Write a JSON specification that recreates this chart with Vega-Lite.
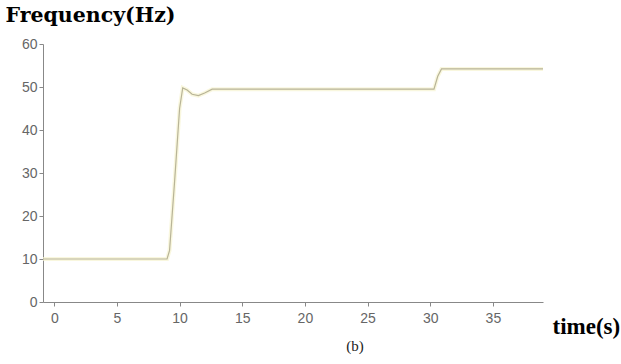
{
  "$schema": "https://vega.github.io/schema/vega-lite/v6.json",
  "width": 500,
  "height": 258,
  "autosize": "none",
  "padding": {"left": 43, "top": 44, "right": 78, "bottom": 62},
  "background": "white",
  "config": {"view": {"stroke": null}},
  "title": {
    "text": "(b)",
    "orient": "bottom",
    "anchor": "middle",
    "dx": 62,
    "offset": 1,
    "font": "Liberation Serif",
    "fontSize": 15,
    "fontWeight": "normal",
    "color": "#222"
  },
  "data": {
    "values": [
      {"t": -0.9, "f": 10},
      {"t": 9.0, "f": 10},
      {"t": 9.2, "f": 12},
      {"t": 9.6, "f": 28},
      {"t": 10.0, "f": 45},
      {"t": 10.25, "f": 49.8},
      {"t": 10.6, "f": 49.3},
      {"t": 11.0, "f": 48.3},
      {"t": 11.5, "f": 48.0},
      {"t": 12.0, "f": 48.6},
      {"t": 12.6, "f": 49.5},
      {"t": 20, "f": 49.5},
      {"t": 30.3, "f": 49.5},
      {"t": 30.6, "f": 52.5},
      {"t": 30.9, "f": 54.2},
      {"t": 39, "f": 54.2}
    ]
  },
  "encoding": {
    "x": {
      "field": "t",
      "type": "quantitative",
      "scale": {"domain": [-0.9, 39], "nice": false, "zero": false},
      "axis": {
        "values": [0, 5, 10, 15, 20, 25, 30, 35],
        "grid": false,
        "domainColor": "#888",
        "tickColor": "#888",
        "tickSize": 4,
        "labelPadding": 5,
        "labelFont": "Liberation Sans",
        "labelFontSize": 14,
        "labelColor": "#666",
        "title": "time(s)",
        "titleFont": "Liberation Serif",
        "titleFontSize": 23,
        "titleFontWeight": "bold",
        "titleColor": "#000",
        "titleAlign": "left",
        "titleBaseline": "alphabetic",
        "titleX": 509,
        "titleY": 31
      }
    },
    "y": {
      "field": "f",
      "type": "quantitative",
      "scale": {"domain": [0, 60], "nice": false},
      "axis": {
        "values": [0, 10, 20, 30, 40, 50, 60],
        "grid": false,
        "domainColor": "#888",
        "tickColor": "#888",
        "tickSize": 4,
        "labelPadding": 2,
        "labelFont": "Liberation Sans",
        "labelFontSize": 14,
        "labelColor": "#666",
        "title": "Frequency(Hz)",
        "titleAngle": 0,
        "titleFont": "DejaVu Serif",
        "titleFontSize": 20.5,
        "titleFontWeight": "bold",
        "titleColor": "#000",
        "titleAlign": "left",
        "titleBaseline": "alphabetic",
        "titleX": -38,
        "titleY": -23
      }
    }
  },
  "layer": [
    {"mark": {"type": "line", "color": "#f6f3d0", "strokeWidth": 4, "opacity": 0.7}},
    {"mark": {"type": "line", "color": "#b8b497", "strokeWidth": 1.2}}
  ]
}
